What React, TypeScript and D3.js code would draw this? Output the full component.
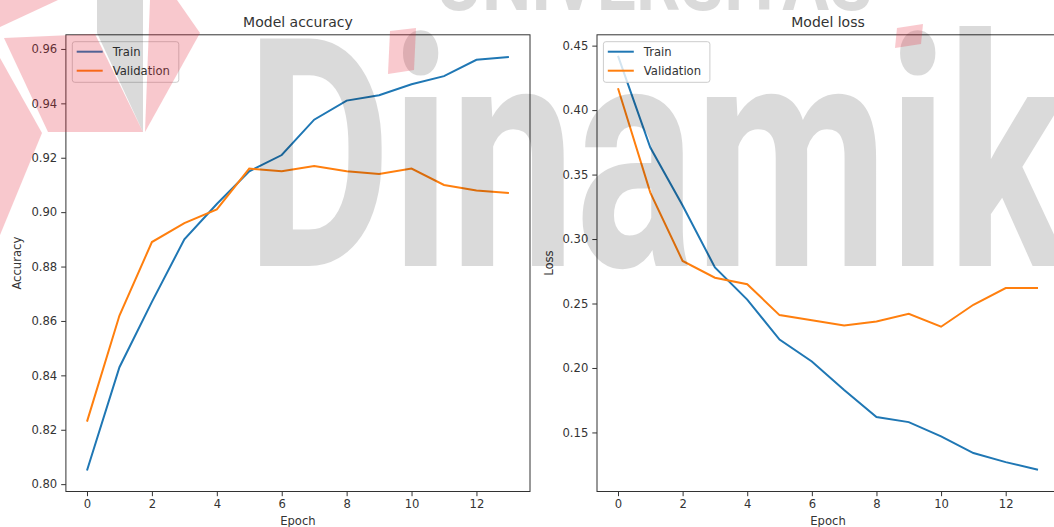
import React, { useEffect, useRef } from 'react';
import * as d3 from 'd3';

// epochs and history values
const epochs = [0, 1, 2, 3, 4, 5, 6, 7, 8, 9, 10, 11, 12, 13];
const accTrain = [0.805, 0.843, 0.867, 0.890, 0.903, 0.915, 0.921, 0.934, 0.941, 0.943, 0.947, 0.950, 0.956, 0.957];
const accVal = [0.823, 0.862, 0.889, 0.896, 0.901, 0.916, 0.915, 0.917, 0.915, 0.914, 0.916, 0.910, 0.908, 0.907];
const lossTrain = [0.442, 0.371, 0.326, 0.278, 0.253, 0.222, 0.205, 0.183, 0.162, 0.158, 0.147, 0.134, 0.127, 0.121];
const lossVal = [0.417, 0.336, 0.283, 0.270, 0.265, 0.241, 0.237, 0.233, 0.236, 0.242, 0.232, 0.249, 0.262, 0.262];

const xTicks = [0, 2, 4, 6, 8, 10, 12];
const accTicks = [0.80, 0.82, 0.84, 0.86, 0.88, 0.90, 0.92, 0.94, 0.96];
const lossTicks = [0.15, 0.20, 0.25, 0.30, 0.35, 0.40, 0.45];
const seriesNames = ['Train', 'Validation'];

const BLUE = '#1f77b4';
const ORANGE = '#ff7f0e';
const INK = '#333';
const FONT = '"DejaVu Sans", sans-serif';

type Panel = {
  left: number;
  right: number;
  title: string;
  ylabel: string;
  ylabelX: number;
  yDomain: [number, number];
  yTicks: number[];
  train: number[];
  val: number[];
};

const TOP = 34.8;
const BOTTOM = 491.5;

const drawPanel = (svg: d3.Selection<SVGSVGElement, unknown, null, undefined>, p: Panel) => {
  const x = d3.scaleLinear().domain([-0.65, 13.65]).range([p.left, p.right]);
  const y = d3.scaleLinear().domain(p.yDomain).range([BOTTOM, TOP]);

  const g = svg.append('g');

  // x-axis
  const xAxis = g
    .append('g')
    .attr('transform', `translate(0, ${BOTTOM})`)
    .call(d3.axisBottom(x).tickValues(xTicks).tickFormat(d3.format('d')).tickSize(4.7).tickPadding(4));
  // y-axis
  const yAxis = g
    .append('g')
    .attr('transform', `translate(${p.left}, 0)`)
    .call(d3.axisLeft(y).tickValues(p.yTicks).tickFormat(d3.format('.2f')).tickSize(4.7).tickPadding(4));

  [xAxis, yAxis].forEach((a) => {
    a.select('.domain').remove();
    a.selectAll('line').attr('stroke', INK).attr('stroke-width', 1);
    a.selectAll('text').attr('fill', INK).attr('font-size', '11.6px').attr('font-family', FONT);
  });

  const line = d3
    .line<number>()
    .x((_, i) => x(epochs[i]))
    .y((d) => y(d));

  g.append('path').attr('d', line(p.train)).attr('fill', 'none').attr('stroke', BLUE).attr('stroke-width', 2);
  g.append('path').attr('d', line(p.val)).attr('fill', 'none').attr('stroke', ORANGE).attr('stroke-width', 2);

  // spines
  g.append('rect')
    .attr('x', p.left)
    .attr('y', TOP)
    .attr('width', p.right - p.left)
    .attr('height', BOTTOM - TOP)
    .attr('fill', 'none')
    .attr('stroke', INK)
    .attr('stroke-width', 1);

  // title + labels
  g.append('text')
    .attr('x', (p.left + p.right) / 2)
    .attr('y', 27)
    .attr('text-anchor', 'middle')
    .attr('font-size', '14px')
    .attr('font-family', FONT)
    .attr('fill', INK)
    .text(p.title);

  g.append('text')
    .attr('x', (p.left + p.right) / 2)
    .attr('y', 524.5)
    .attr('text-anchor', 'middle')
    .attr('font-size', '11.6px')
    .attr('font-family', FONT)
    .attr('fill', INK)
    .text('Epoch');

  g.append('text')
    .attr('transform', `translate(${p.ylabelX}, ${(TOP + BOTTOM) / 2}) rotate(-90)`)
    .attr('text-anchor', 'middle')
    .attr('font-size', '11.6px')
    .attr('font-family', FONT)
    .attr('fill', INK)
    .text(p.ylabel);

  // legend
  const lx = p.left + 6.4;
  const ly = 41.7;
  const lg = g.append('g');
  lg.append('rect')
    .attr('x', lx)
    .attr('y', ly)
    .attr('width', 106.5)
    .attr('height', 40.6)
    .attr('rx', 2.5)
    .attr('fill', 'white')
    .attr('fill-opacity', 0.8)
    .attr('stroke', '#ccc')
    .attr('stroke-width', 1);
  [BLUE, ORANGE].forEach((c, i) => {
    const yy = ly + 10 + i * 19;
    lg.append('line')
      .attr('x1', lx + 4.4)
      .attr('x2', lx + 30.4)
      .attr('y1', yy)
      .attr('y2', yy)
      .attr('stroke', c)
      .attr('stroke-width', 2);
    lg.append('text')
      .attr('x', lx + 40.4)
      .attr('y', yy)
      .attr('dy', '0.36em')
      .attr('font-size', '11.6px')
      .attr('font-family', FONT)
      .attr('fill', INK)
      .text(seriesNames[i]);
  });
};

const drawWatermark = (svg: d3.Selection<SVGSVGElement, unknown, null, undefined>) => {
  const grey = svg.append('g').attr('pointer-events', 'none').attr('opacity', 0.14);

  grey.append('polygon').attr('points', '97,0 143,0 143,132 97,33').attr('fill', '#000');

  grey.append('text')
    .attr('x', 436)
    .attr('y', 10)
    .attr('textLength', 436)
    .attr('lengthAdjust', 'spacingAndGlyphs')
    .attr('font-size', '80px')
    .attr('font-weight', 'bold')
    .attr('font-family', 'Roboto, sans-serif')
    .attr('fill', '#000')
    .text('UNIVERSITAS');

  grey.append('text')
    .attr('x', 246)
    .attr('y', 266)
    .attr('textLength', 940)
    .attr('lengthAdjust', 'spacingAndGlyphs')
    .attr('font-size', '320px')
    .attr('font-weight', 'bold')
    .attr('font-family', 'Roboto, sans-serif')
    .attr('fill', '#000')
    .text('Dinamika');

  // pink logo pieces at top-left and the two i-dots
  const pink: [number, number][][] = [
    [[0, 0], [58, 0], [0, 27]],
    [[4, 38], [95, 34], [143, 132], [48, 132]],
    [[0, 58], [42, 133], [0, 235]],
    [[150, 0], [177, 0], [200, 33], [145, 132]],
    [[390, 31], [416, 28], [414, 70], [388, 74]],
    [[897, 28], [923, 24], [921, 44], [895, 48]],
  ];
  const red = svg.append('g').attr('pointer-events', 'none').attr('opacity', 0.25);
  pink.forEach((pts) => {
    red.append('polygon')
      .attr('points', pts.map((q) => q.join(',')).join(' '))
      .attr('fill', 'rgb(230,40,60)');
  });
};

const App = () => {
  const svgRef = useRef<SVGSVGElement>(null);

  useEffect(() => {
    const svg = d3.select(svgRef.current as SVGSVGElement);
    svg.selectAll('*').remove();

    drawPanel(svg, {
      left: 65.9,
      right: 530,
      title: 'Model accuracy',
      ylabel: 'Accuracy',
      ylabelX: 21,
      yDomain: [0.7973, 0.9652],
      yTicks: accTicks,
      train: accTrain,
      val: accVal,
    });
    drawPanel(svg, {
      left: 597,
      right: 1059,
      title: 'Model loss',
      ylabel: 'Loss',
      ylabelX: 553,
      yDomain: [0.1042, 0.4584],
      yTicks: lossTicks,
      train: lossTrain,
      val: lossVal,
    });

    drawWatermark(svg);
  }, []);

  return (
    <svg
      ref={svgRef}
      width={1054}
      height={527}
      style={{ position: 'absolute', left: 0, top: 0, background: '#fff' }}
    />
  );
};

export default App;
